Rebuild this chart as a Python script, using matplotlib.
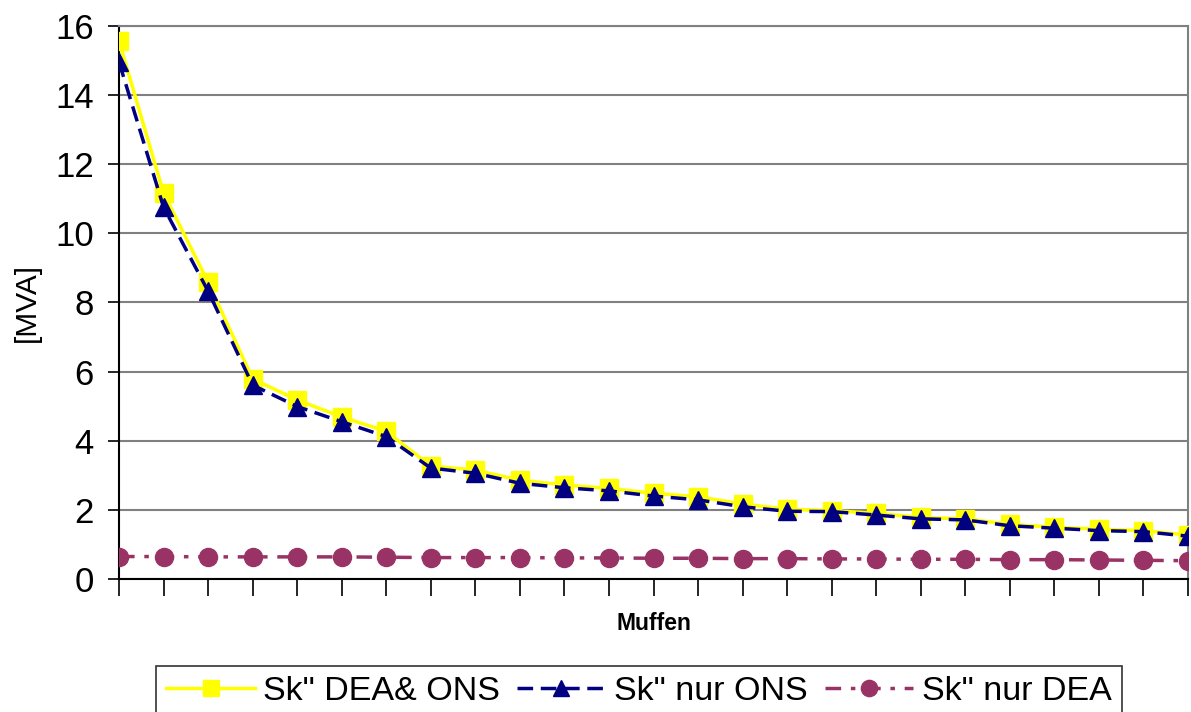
import matplotlib.pyplot as plt
import numpy as np

plt.rcParams['font.family'] = ['Liberation Sans', 'DejaVu Sans']

# Kurzschlussleistung an den Muffen
muffen = list(range(1, 26))
sk_dea_ons = [15.57, 11.17, 8.59, 5.79, 5.18, 4.69, 4.27, 3.27, 3.15, 2.86,
              2.72, 2.62, 2.48, 2.38, 2.17, 2.02, 1.98, 1.90, 1.78, 1.74,
              1.58, 1.50, 1.44, 1.40, 1.27]
sk_nur_ons = [14.96, 10.76, 8.33, 5.61, 4.99, 4.55, 4.12, 3.21, 3.06, 2.77,
              2.64, 2.55, 2.40, 2.29, 2.09, 1.96, 1.95, 1.85, 1.74, 1.71,
              1.54, 1.47, 1.40, 1.37, 1.24]
sk_nur_dea = [0.65, 0.65, 0.64, 0.64, 0.64, 0.64, 0.63, 0.62, 0.62, 0.62,
              0.61, 0.61, 0.60, 0.60, 0.59, 0.59, 0.58, 0.58, 0.57, 0.57,
              0.56, 0.56, 0.55, 0.54, 0.53]

fig = plt.figure(figsize=(11.91, 7.12), dpi=100)
ax = fig.add_axes([0.0999, 0.1868, 0.8976, 0.7767])

ax.plot(muffen, sk_dea_ons, color='#FFFF00', lw=2.5, marker='s', ms=13,
        mec='#FFFF00', label='Sk" DEA& ONS', zorder=3)
ax.plot(muffen, sk_nur_ons, color='#000080', lw=2.5, ls=(0, (4.5, 2.2)),
        marker='^', ms=13, label='Sk" nur ONS', zorder=4)
ax.plot(muffen, sk_nur_dea, color='#993366', lw=2.5, ls=(0, (4.5, 2.8, 1.3, 2.8)),
        marker='o', ms=13, label='Sk" nur DEA', zorder=3)

ax.set_xlim(1, 25)
ax.set_ylim(0, 16)
ax.set_yticks(np.arange(0, 17, 2))
ax.set_xticks(muffen)
ax.set_xticklabels([])
ax.yaxis.grid(True, color='#808080', lw=1.5)
ax.set_axisbelow(True)

ax.tick_params(axis='y', labelsize=25, length=8, width=1.2, direction='out', pad=10)
ax.tick_params(axis='x', length=12, width=1.2, direction='out')

for side in ['left', 'bottom']:
    ax.spines[side].set_color('black')
    ax.spines[side].set_linewidth(1.5)
for side in ['right', 'top']:
    ax.spines[side].set_color('#808080')
    ax.spines[side].set_linewidth(1.5)

ax.set_ylabel('[MVA]', fontsize=21.5, labelpad=10)
ax.set_xlabel('Muffen', fontsize=16.5, fontweight='bold', labelpad=8)

leg = fig.legend(loc='upper center', bbox_to_anchor=(0.5365, 0.0646), ncol=3,
                 fontsize=24.5, frameon=True, fancybox=False, handlelength=2.6,
                 handletextpad=0.25, columnspacing=0.5, borderpad=0.3,
                 borderaxespad=0, markerscale=0.9)
leg.get_frame().set_edgecolor('black')
leg.get_frame().set_linewidth(1.2)

fig.savefig('out.png', dpi=100)
